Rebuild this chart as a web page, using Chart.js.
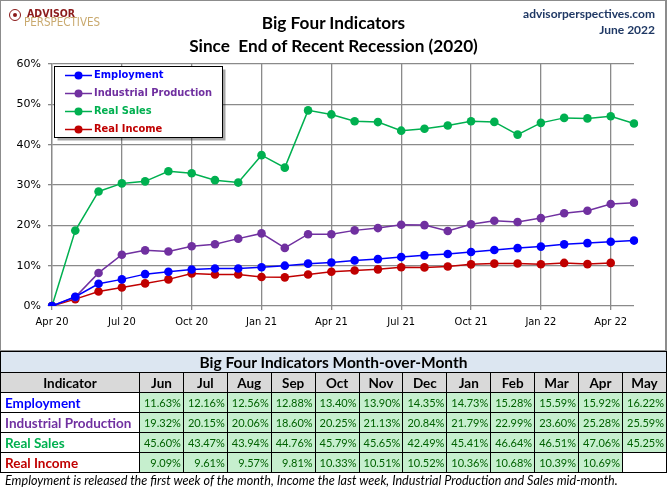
<!DOCTYPE html>
<html><head><meta charset="utf-8">
<script src="https://cdn.jsdelivr.net/npm/chart.js@4"></script>
<style>
html,body{margin:0;padding:0;background:#fff;}
#wrap{position:relative;width:667px;height:488px;overflow:hidden;background:#fff;}
#frame{position:absolute;left:0;top:0;width:667px;height:351px;box-sizing:border-box;border:1px solid #8c8c8c;border-right-width:2px;}
#c{position:absolute;left:0;top:0;}
.t{position:absolute;white-space:nowrap;}
#title{left:0;width:667px;top:11px;text-align:center;font:bold 17.2px Lato,sans-serif;line-height:23px;color:#000;}
#site{right:12px;top:6px;text-align:right;font:bold 12px Lato,sans-serif;line-height:16px;color:#1f3864;}
#logo1{left:27px;top:7px;font:bold 10.5px "DejaVu Sans Condensed",sans-serif;color:#8b1a1a;}
#logo2{left:24px;top:15px;font:11.5px "DejaVu Sans Condensed",sans-serif;color:#c9a96e;}
#icon{left:9px;top:9px;width:10px;height:10px;border:1.5px solid #8b1a1a;border-radius:50%;}
#icon:after{content:"";position:absolute;left:3px;top:3px;width:4px;height:4px;background:#8b1a1a;border-radius:50%;}
table{position:absolute;left:0;top:351px;width:667px;border-collapse:collapse;table-layout:fixed;font-family:Lato,sans-serif;}
td,th{border:1px solid #000;padding:0;overflow:hidden;white-space:nowrap;}
th.cap{background:#dce6f1;height:20px;font:bold 15.5px Lato,sans-serif;}
th.hd{background:#d9d9d9;height:19px;font:bold 13.5px Lato,sans-serif;}
td.nm{font:bold 13.5px Lato,sans-serif;padding-left:4px;height:19px;}
td.v{background:#c6efce;color:#006100;font:11px Lato,sans-serif;text-align:right;padding-right:2px;}
td.e{background:#fff;}
#foot{left:5px;top:473px;font:italic 12.6px Lato,sans-serif;color:#000;}
</style></head>
<body><div id="wrap">
<canvas id="c" width="667" height="350"></canvas>
<div id="frame"></div>
<div class="t" id="icon"></div>
<div class="t" id="logo1">ADVISOR</div>
<div class="t" id="logo2">PERSPECTIVES</div>
<div class="t" id="title">Big Four Indicators<br>Since&nbsp; End of Recent Recession (2020)</div>
<div class="t" id="site">advisorperspectives.com<br>June 2022</div>
<table id="tbl"></table>
<div class="t" id="foot">Employment is released the first week of the month, Income the last week, Industrial Production and Sales mid-month.</div>
</div>
<script>
const months = ['Apr 20','May 20','Jun 20','Jul 20','Aug 20','Sep 20','Oct 20','Nov 20','Dec 20','Jan 21','Feb 21','Mar 21','Apr 21','May 21','Jun 21','Jul 21','Aug 21','Sep 21','Oct 21','Nov 21','Dec 21','Jan 22','Feb 22','Mar 22','Apr 22','May 22'];
const employment = [0,2.3,5.5,6.6,7.9,8.5,9.05,9.3,9.3,9.6,10.0,10.5,10.8,11.3,11.63,12.16,12.56,12.88,13.40,13.90,14.35,14.73,15.28,15.59,15.92,16.22];
const industrial = [0,2.2,8.2,12.7,13.8,13.5,14.8,15.3,16.7,18.0,14.4,17.8,17.8,18.75,19.32,20.15,20.06,18.60,20.25,21.13,20.84,21.79,22.99,23.60,25.28,25.59];
const realSales = [0,18.7,28.4,30.4,30.9,33.4,32.9,31.2,30.6,37.4,34.3,48.5,47.5,45.8,45.60,43.47,43.94,44.76,45.79,45.65,42.49,45.41,46.64,46.51,47.06,45.25];
const realIncome = [0,1.7,3.6,4.6,5.6,6.6,8.05,7.8,7.8,7.2,7.1,7.8,8.5,8.8,9.09,9.61,9.57,9.81,10.33,10.51,10.52,10.36,10.68,10.39,10.69,null];
const seriesNames = ['Employment','Industrial Production','Real Sales','Real Income'];
const seriesColors = ['#0000ff','#7030a0','#00b050','#c00000'];
const tableMonths = ['Jun','Jul','Aug','Sep','Oct','Nov','Dec','Jan','Feb','Mar','Apr','May'];
const yTicks = [0,10,20,30,40,50,60];

const allSeries = [employment, industrial, realSales, realIncome];

const legendPlugin = {
  id:'boxLegend',
  afterDraw(chart){
    const ctx = chart.ctx;
    const x0 = 54.5, y0 = 66.5, w = 168, h = 71;
    ctx.save();
    ctx.fillStyle = 'rgba(0,0,0,0.35)';
    ctx.fillRect(x0+3, y0+3, w, h);
    ctx.fillStyle = '#fff';
    ctx.fillRect(x0, y0, w, h);
    ctx.strokeStyle = '#000'; ctx.lineWidth = 1;
    ctx.strokeRect(x0, y0, w, h);
    ctx.font = 'bold 11px "DejaVu Sans Condensed", sans-serif';
    ctx.textBaseline = 'middle';
    chart.data.datasets.forEach((ds,i)=>{
      const y = 75.5 + i*18;
      ctx.strokeStyle = ds.borderColor; ctx.lineWidth = 1.5;
      ctx.beginPath(); ctx.moveTo(65,y); ctx.lineTo(92,y); ctx.stroke();
      ctx.fillStyle = ds.borderColor;
      ctx.beginPath(); ctx.arc(78.5,y,4,0,Math.PI*2); ctx.fill();
      ctx.fillText(ds.label, 94, y);
    });
    ctx.restore();
  }
};

new Chart(document.getElementById('c'), {
  type:'line',
  data:{
    labels: months,
    datasets: allSeries.map((s,i)=>({
      label: seriesNames[i], data: s,
      borderColor: seriesColors[i], backgroundColor: seriesColors[i],
      borderWidth: 1.5, pointRadius: 4.3, pointBorderWidth: 0,
      pointBackgroundColor: seriesColors[i], tension: 0, spanGaps:false
    }))
  },
  options:{
    responsive:false, animation:false,
    layout:{padding:{top:64,right:33,left:0,bottom:0}},
    plugins:{legend:{display:false}, tooltip:{enabled:false}},
    scales:{
      x:{
        type:'category', offset:false,
        afterFit(s){ s.height = 44; },
        grid:{color:(c)=> (c.index%3===0 ? '#8a8a8a' : 'rgba(0,0,0,0)'), lineWidth:1.3, tickLength:4, drawOnChartArea:true},
        border:{display:false},
        ticks:{autoSkip:false, maxRotation:0, minRotation:0, padding:6, color:'#000',
          font:{family:'"DejaVu Sans Condensed", sans-serif', size:11},
          callback:function(v,i){ return i%3===0 ? months[i] : ''; }}
      },
      y:{
        min:0, max:60,
        afterFit(s){ s.width = 52; },
        afterBuildTicks(s){ s.ticks = yTicks.map(v=>({value:v})); },
        grid:{color:'#8a8a8a', lineWidth:1.3, tickLength:4},
        border:{display:true, color:'#8a8a8a', width:1.3},
        ticks:{padding:7, color:'#000', font:{family:'"DejaVu Sans", sans-serif', size:11},
          callback:(v)=> v+'%'}
      }
    }
  },
  plugins:[legendPlugin]
});

// table
const tbl = document.getElementById('tbl');
let html = '<colgroup><col style="width:139px">' + tableMonths.map(()=>'<col>').join('') + '</colgroup>';
html += '<tr><th class="cap" colspan="13">Big Four Indicators Month-over-Month</th></tr>';
html += '<tr><th class="hd">Indicator</th>' + tableMonths.map(m=>'<th class="hd">'+m+'</th>').join('') + '</tr>';
allSeries.forEach((s,i)=>{
  const last = s.slice(s.length-12);
  html += '<tr><td class="nm" style="color:'+seriesColors[i]+'">'+seriesNames[i]+'</td>' +
    last.map(v=> v==null ? '<td class="e"></td>' : '<td class="v">'+v.toFixed(2)+'%</td>').join('') + '</tr>';
});
tbl.innerHTML = html;
</script>
</body></html>
